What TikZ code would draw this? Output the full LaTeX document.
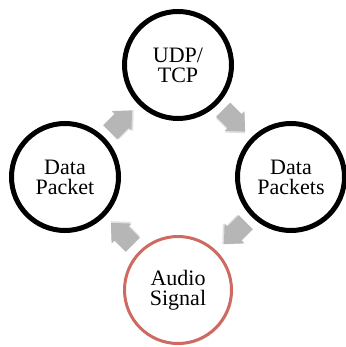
\documentclass[tikz,border=0pt]{standalone}
\usepackage{fontspec}
\setmainfont{Liberation Serif}
\usetikzlibrary{shadows}
\definecolor{ringred}{RGB}{207,106,99}
\definecolor{arrowgray}{RGB}{182,182,182}
\tikzset{
  ring/.style={circle, draw=black, line width=5pt, fill=white, minimum size=107pt, inner sep=0pt,
    align=center, font=\fontsize{22}{20}\selectfont,
    drop shadow={opacity=0.18, shadow xshift=1.5pt, shadow yshift=-1.5pt}},
  redring/.style={ring, draw=ringred, line width=3pt},
  arrowfill/.style={fill=arrowgray},
  arrowshade/.style={fill=black, opacity=0.12}
}
\newcommand{\cyclearrow}[2]{%
  \begin{scope}[shift={(#1)}, rotate=#2]
    \fill[arrowshade, shift={(1.2,1.2)}] (-16,-10) -- (0,-10) -- (0,-14) -- (15,0) -- (0,14) -- (0,10) -- (-16,10) -- cycle;
    \fill[arrowfill] (-16,-10) -- (0,-10) -- (0,-14) -- (15,0) -- (0,14) -- (0,10) -- (-16,10) -- cycle;
  \end{scope}}
\begin{document}
\begin{tikzpicture}[x=1pt,y=-1pt]
\useasboundingbox (0,0) rectangle (345,347);
\node[ring] (top) at (178,65) {UDP/\\TCP};
\node[ring] (right) at (291,177) {Data\\Packets};
\node[redring] (bottom) at (178,290) {Audio\\Signal};
\node[ring] (left) at (65,177) {Data\\Packet};
\path (left.center) -- coordinate (a1) (top.center);
\path (top.center) -- coordinate (a2) (right.center);
\path (right.center) -- coordinate (a3) (bottom.center);
\path (bottom.center) -- coordinate (a4) (left.center);
\cyclearrow{a1}{45}
\cyclearrow{a2}{-45}
\cyclearrow{a3}{-135}
\cyclearrow{a4}{135}
\end{tikzpicture}
\end{document}
